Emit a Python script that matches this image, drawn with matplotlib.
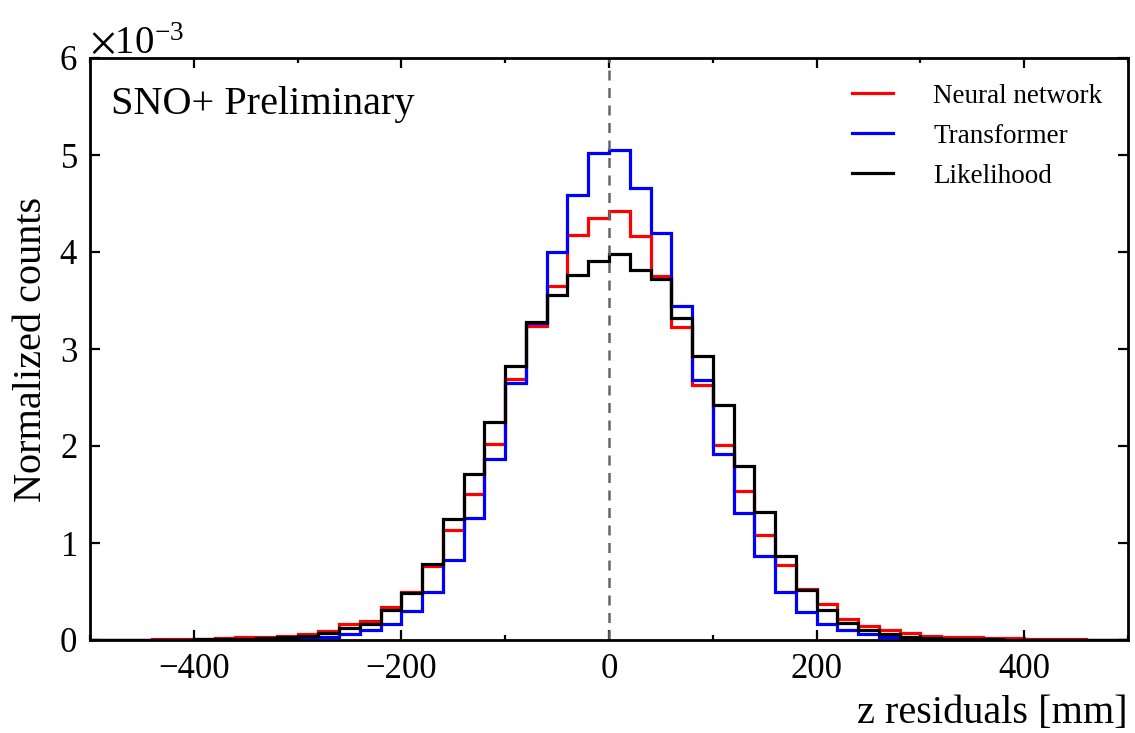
import numpy as np
import matplotlib
matplotlib.use("Agg")
import matplotlib.pyplot as plt
from matplotlib.ticker import MultipleLocator, ScalarFormatter

plt.rcParams['font.family'] = ['Liberation Serif', 'DejaVu Serif']
plt.rcParams['mathtext.fontset'] = 'stix'

# bin edges [mm], 20 mm bins
edges = np.arange(-500, 501, 20)

# normalized counts, in units of 1e-3, one value per bin (left edge -500 ... 480)
nn = [0.003, 0.004, 0.005, 0.007, 0.009, 0.012, 0.018, 0.026, 0.034, 0.045,
      0.060, 0.096, 0.160, 0.200, 0.340, 0.490, 0.760, 1.130, 1.510, 2.020,
      2.690, 3.240, 3.650, 4.180, 4.350, 4.420, 4.160, 3.750, 3.230, 2.630,
      2.010, 1.540, 1.080, 0.770, 0.530, 0.370, 0.220, 0.144, 0.100, 0.075,
      0.045, 0.034, 0.030, 0.025, 0.020, 0.015, 0.011, 0.008, 0.005, 0.004]
transformer = [0.000, 0.000, 0.001, 0.001, 0.001, 0.002, 0.002, 0.003, 0.005, 0.008,
               0.015, 0.035, 0.065, 0.100, 0.170, 0.300, 0.490, 0.820, 1.260, 1.870,
               2.650, 3.270, 4.000, 4.590, 5.020, 5.050, 4.660, 4.200, 3.440, 2.680,
               1.920, 1.310, 0.870, 0.500, 0.285, 0.170, 0.100, 0.060, 0.033, 0.015,
               0.008, 0.005, 0.003, 0.002, 0.002, 0.001, 0.001, 0.001, 0.000, 0.000]
likelihood = [0.001, 0.002, 0.002, 0.003, 0.004, 0.006, 0.009, 0.014, 0.020, 0.030,
              0.045, 0.075, 0.120, 0.170, 0.310, 0.480, 0.780, 1.250, 1.710, 2.250,
              2.820, 3.280, 3.560, 3.760, 3.910, 3.980, 3.810, 3.720, 3.320, 2.930,
              2.420, 1.790, 1.320, 0.870, 0.520, 0.310, 0.180, 0.100, 0.060, 0.030,
              0.020, 0.014, 0.010, 0.007, 0.005, 0.004, 0.003, 0.002, 0.001, 0.001]

fig = plt.figure(figsize=(11.35, 7.33), dpi=100)
ax = fig.add_axes([90/1135, 1 - 640/733, (1128-90)/1135, (640-58)/733])

ax.stairs(np.array(nn) * 1e-3, edges, color='#ff0000', lw=2.3, label='Neural network')
ax.stairs(np.array(transformer) * 1e-3, edges, color='#0000ff', lw=2.3, label='Transformer')
ax.stairs(np.array(likelihood) * 1e-3, edges, color='black', lw=2.3, label='Likelihood')
ax.axvline(0, color='#666666', ls='--', lw=1.8, dashes=(4, 3))

ax.set_xlim(-500, 500)
ax.set_ylim(0, 6e-3)
ax.xaxis.set_major_locator(MultipleLocator(200))
ax.xaxis.set_minor_locator(MultipleLocator(100))
ax.yaxis.set_major_locator(MultipleLocator(1e-3))
fmt = ScalarFormatter(useMathText=True)
fmt.set_powerlimits((-2, 2))
ax.yaxis.set_major_formatter(fmt)
ax.yaxis.get_offset_text().set_fontsize(28)

ax.tick_params(which='both', direction='in', top=True, right=True, labelsize=25, width=1.6, pad=9)
ax.tick_params(which='major', length=7)
ax.tick_params(which='minor', length=3.5)
for s in ax.spines.values():
    s.set_linewidth(2.0)

ax.set_xlabel('z residuals [mm]', fontsize=29, loc='right', labelpad=7)
ax.set_ylabel('Normalized counts', fontsize=29, labelpad=6)
ax.text(0.02, 0.92, 'SNO+ Preliminary', transform=ax.transAxes, fontsize=29, va='center')
ax.legend(loc='upper right', frameon=False, fontsize=19.5, handlelength=1.5,
          labelspacing=0.55, borderaxespad=0.55, handletextpad=1.5)

fig.savefig('out.png', dpi=100)
